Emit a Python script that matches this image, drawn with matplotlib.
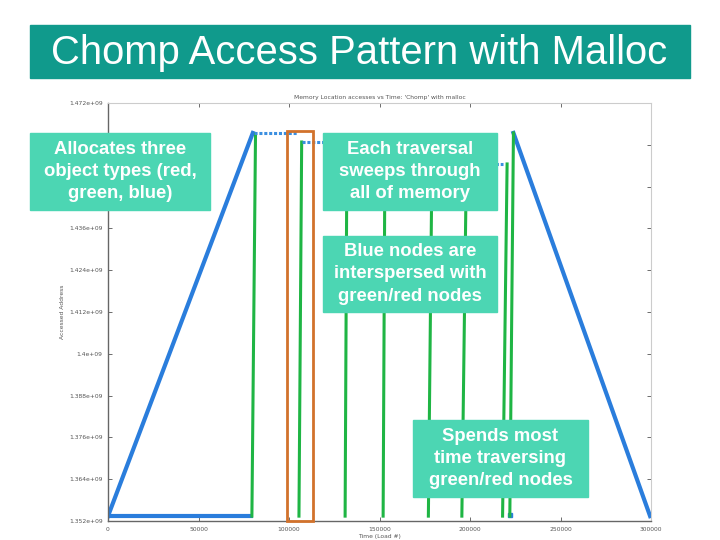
import numpy as np
import matplotlib
matplotlib.use('Agg')
import matplotlib.pyplot as plt
from matplotlib.patches import Rectangle

# gnuplot trace of Chomp with malloc
blue_up_x = [0, 80000]
blue_up_y = [1.3534e9, 1.4634e9]
blue_base_x = [0, 80000]
blue_base_y = [1.3534e9, 1.3534e9]
blue_down_x = [224000, 299500]
blue_down_y = [1.4634e9, 1.3534e9]
blue_dot_x = [222000]
blue_dot_y = [1.3537e9]

# green sweeps (start at bottom, end at top)
green_x0 = [79500, 105500, 131000, 152000, 177000, 195500, 218000, 222000]
green_x1 = [81500, 107000, 132000, 153000, 179000, 198000, 220500, 224000]
green_top = [1.4631e9, 1.4608e9, 1.4590e9, 1.4575e9, 1.4559e9, 1.4545e9, 1.4545e9, 1.4634e9]
green_bottom = 1.3534e9

# dotted blue runs along the top between sweeps
dot_x0 = [80500, 107000, 132000, 153000, 179000, 198000]
dot_x1 = [105000, 131000, 152000, 177000, 196000, 218000]
dot_y = [1.4634e9, 1.4608e9, 1.4590e9, 1.4575e9, 1.4559e9, 1.4545e9]

highlight_x = (99000, 113000)
highlight_y = (1.3520e9, 1.4640e9)

xticks = [0, 50000, 100000, 150000, 200000, 250000, 300000]
yticks = [1.352e9, 1.364e9, 1.376e9, 1.388e9, 1.4e9, 1.412e9, 1.424e9,
          1.436e9, 1.448e9, 1.46e9, 1.472e9]
ytick_labels = ['1.352e+09', '1.364e+09', '1.376e+09', '1.388e+09', '1.4e+09',
                '1.412e+09', '1.424e+09', '1.436e+09', '1.448e+09', '1.46e+09',
                '1.472e+09']

notes = ['Allocates three\nobject types (red,\ngreen, blue)',
         'Each traversal\nsweeps through\nall of memory',
         'Blue nodes are\ninterspersed with\ngreen/red nodes',
         'Spends most\ntime traversing\ngreen/red nodes']
note_boxes = [(30, 133, 180, 77), (323, 133, 174, 77),
              (323, 236, 174, 76), (413, 420, 175, 77)]

W, H = 720, 540
fig = plt.figure(figsize=(7.2, 5.4), dpi=100)

# title bar
fig.add_artist(Rectangle((30 / W, 1 - 78 / H), 660 / W, 53 / H,
                         transform=fig.transFigure, color='#109a8c', zorder=1))
fig.text(51 / W, 1 - 53 / H, 'Chomp Access Pattern with Malloc', color='white',
         fontsize=28.8, family='Liberation Sans', va='center', ha='left', zorder=2)

ax = fig.add_axes([108 / W, 1 - 521 / H, 543 / W, 418 / H])
blue = '#2a7ddc'
green = '#1fb544'
ax.plot(blue_base_x, blue_base_y, color=blue, lw=3, solid_capstyle='butt')
ax.plot(blue_up_x, blue_up_y, color=blue, lw=3)
ax.plot(blue_down_x, blue_down_y, color=blue, lw=3)
ax.plot(blue_dot_x, blue_dot_y, 's', color=blue, ms=3)
for a, b, t in zip(green_x0, green_x1, green_top):
    ax.plot([a, b], [green_bottom, t], color=green, lw=2.2)
for a, b, y in zip(dot_x0, dot_x1, dot_y):
    ax.plot([a, b], [y, y], color='#3b8fe0', lw=2.2, ls=(0, (1, 0.6)))

ax.add_patch(Rectangle((highlight_x[0], highlight_y[0]),
                       highlight_x[1] - highlight_x[0],
                       highlight_y[1] - highlight_y[0],
                       fill=False, edgecolor='#d2722c', lw=2, clip_on=False, zorder=5))

ax.set_xlim(0, 300000)
ax.set_ylim(1.352e9, 1.472e9)
ax.set_xticks(xticks)
ax.set_xticklabels([str(v) for v in xticks])
ax.set_yticks(yticks)
ax.set_yticklabels(ytick_labels)
ax.tick_params(direction='in', length=3, width=0.6, labelsize=4.3, labelcolor='#555555',
               color='#555555', top=True, right=True, pad=4)
for s in ['left', 'bottom']:
    ax.spines[s].set_color('#666666')
    ax.spines[s].set_linewidth(1.0)
for s in ['top', 'right']:
    ax.spines[s].set_color('#cccccc')
    ax.spines[s].set_linewidth(0.8)
ax.set_xlabel('Time (Load #)', fontsize=4.3, color='#555555', labelpad=2)
ax.set_ylabel('Accessed Address', fontsize=4.3, color='#555555', labelpad=3)
ax.set_title("Memory Location accesses vs Time: 'Chomp' with malloc",
             fontsize=4.3, color='#555555', pad=3)

# callout boxes
for txt, (x, y, w, h) in zip(notes, note_boxes):
    fig.add_artist(Rectangle((x / W, 1 - (y + h) / H), w / W, h / H,
                             transform=fig.transFigure, color='#4cd6b3', zorder=10))
    fig.text((x + w / 2) / W, 1 - (y + h / 2) / H, txt, color='white',
             fontsize=13.3, fontweight='bold', family='Liberation Sans',
             ha='center', va='center', linespacing=1.42, zorder=11)

fig.savefig('out.png', dpi=100)
